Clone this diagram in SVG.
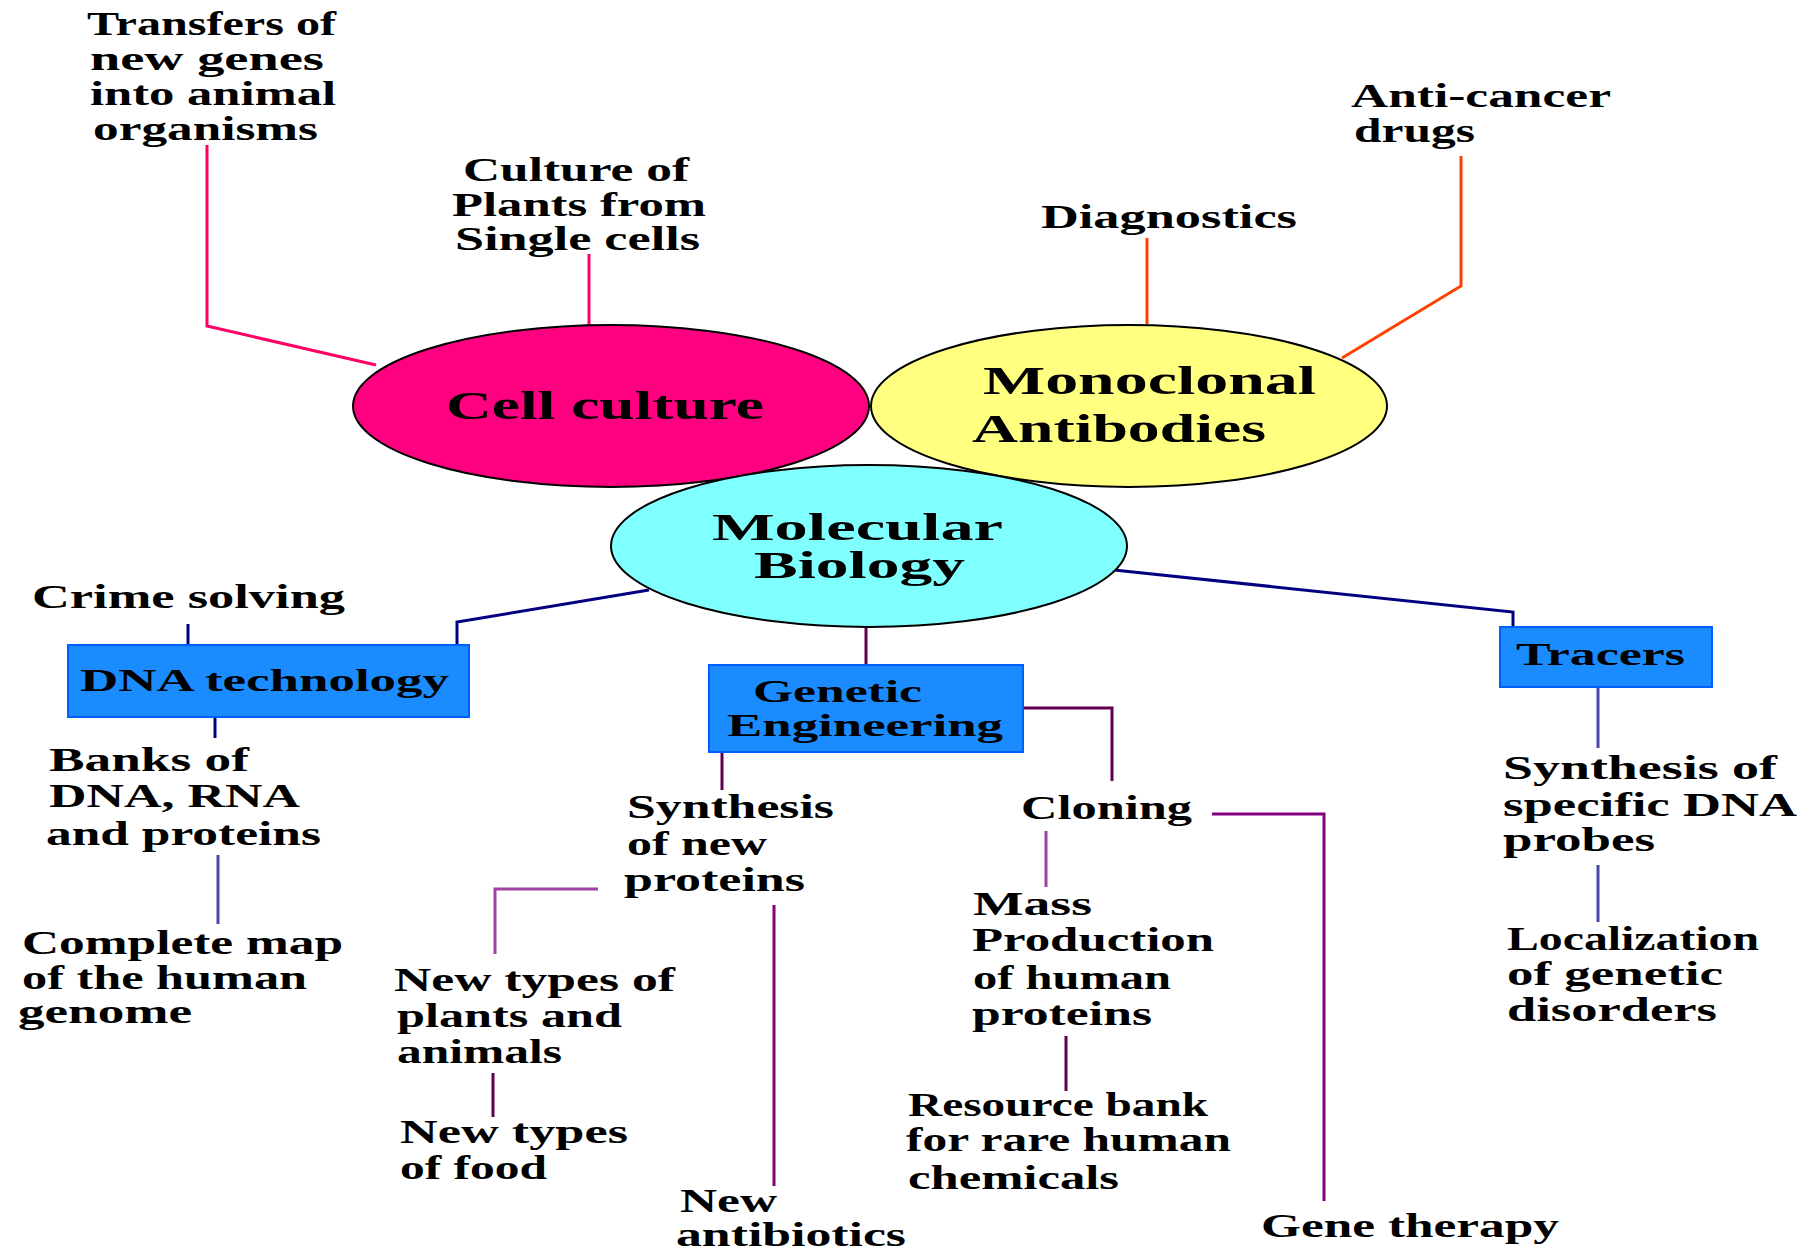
<svg xmlns="http://www.w3.org/2000/svg" width="1816" height="1254" viewBox="0 0 1816 1254">
<style>
text{font-family:"Liberation Serif","Times New Roman",serif;font-weight:bold;fill:#000}
.s{font-size:33px}
.b{font-size:40px}
.m{font-size:37px}
.bx{font-size:32px}
.ln{fill:none;stroke-width:3}
.pk{stroke:#ff0066}
.or{stroke:#ff4000}
.nv{stroke:#000080}
.bl{stroke:#4848a8}
.pu{stroke:#800080}
.dp{stroke:#600050}
.lp{stroke:#a040a0}
.el{stroke:#000;stroke-width:2}
.box{fill:#1a8cff;stroke:#0060ff;stroke-width:2}
</style>
<rect width="1816" height="1254" fill="#fff"/>
<g id="connectors">
<polyline class="ln pk" points="207,145 207,326 376,365"/>
<polyline class="ln pk" points="589,254 589,326"/>
<polyline class="ln or" points="1147,238 1147,324"/>
<polyline class="ln or" points="1461,156 1461,286 1342,358"/>
<polyline class="ln nv" points="649,590 457,622 457,645"/>
<polyline class="ln nv" points="188,624 188,645"/>
<polyline class="ln nv" points="215,717 215,738"/>
<polyline class="ln bl" points="218,855 218,924"/>
<polyline class="ln nv" points="1114,570 1513,612 1513,627"/>
<polyline class="ln bl" points="1598,687 1598,748"/>
<polyline class="ln bl" points="1598,865 1598,922"/>
<polyline class="ln dp" points="866,627 866,665"/>
<polyline class="ln dp" points="722,752 722,790"/>
<polyline class="ln dp" points="1023,708 1112,708 1112,781"/>
<polyline class="ln lp" points="598,889 495,889 495,954"/>
<polyline class="ln dp" points="493,1073 493,1117"/>
<polyline class="ln pu" points="774,905 774,1186"/>
<polyline class="ln pu" points="1212,814 1324,814 1324,1201"/>
<polyline class="ln lp" points="1046,831 1046,887"/>
<polyline class="ln dp" points="1066,1036 1066,1091"/>
</g>
<g id="transfers">
<text class="s" x="87" y="35" textLength="249" lengthAdjust="spacingAndGlyphs">Transfers of</text>
<text class="s" x="90" y="70" textLength="234" lengthAdjust="spacingAndGlyphs">new genes</text>
<text class="s" x="90" y="105" textLength="246" lengthAdjust="spacingAndGlyphs">into animal</text>
<text class="s" x="93" y="140" textLength="225" lengthAdjust="spacingAndGlyphs">organisms</text>
</g>
<g id="culture-plants">
<text class="s" x="463" y="181" textLength="226" lengthAdjust="spacingAndGlyphs">Culture of</text>
<text class="s" x="452" y="216" textLength="254" lengthAdjust="spacingAndGlyphs">Plants from</text>
<text class="s" x="455" y="250" textLength="245" lengthAdjust="spacingAndGlyphs">Single cells</text>
</g>
<g id="diagnostics">
<text class="s" x="1041" y="228" textLength="256" lengthAdjust="spacingAndGlyphs">Diagnostics</text>
</g>
<g id="anticancer">
<text class="s" x="1351" y="107" textLength="260" lengthAdjust="spacingAndGlyphs">Anti-cancer</text>
<text class="s" x="1354" y="142" textLength="121" lengthAdjust="spacingAndGlyphs">drugs</text>
</g>
<g id="cell-culture">
<ellipse cx="611" cy="406" rx="258" ry="81" fill="#ff0080" class="el"/>
<text class="b" x="446" y="419" textLength="318" lengthAdjust="spacingAndGlyphs">Cell culture</text>
</g>
<g id="monoclonal">
<ellipse cx="1129" cy="406" rx="258" ry="81" fill="#ffff80" class="el"/>
<text class="b" x="983" y="394" textLength="333" lengthAdjust="spacingAndGlyphs">Monoclonal</text>
<text class="b" x="972" y="442" textLength="294" lengthAdjust="spacingAndGlyphs">Antibodies</text>
</g>
<g id="molecular">
<ellipse cx="869" cy="546" rx="258" ry="81" fill="#80ffff" class="el"/>
<text class="m" x="712" y="540" textLength="291" lengthAdjust="spacingAndGlyphs">Molecular</text>
<text class="m" x="754" y="578" textLength="211" lengthAdjust="spacingAndGlyphs">Biology</text>
</g>
<g id="crime">
<text class="s" x="32" y="608" textLength="313" lengthAdjust="spacingAndGlyphs">Crime solving</text>
</g>
<g id="dna-tech">
<rect class="box" x="68" y="645" width="401" height="72"/>
<text class="bx" x="80" y="691" textLength="369" lengthAdjust="spacingAndGlyphs">DNA technology</text>
</g>
<g id="banks">
<text class="s" x="49" y="771" textLength="200" lengthAdjust="spacingAndGlyphs">Banks of</text>
<text class="s" x="49" y="807" textLength="251" lengthAdjust="spacingAndGlyphs">DNA, RNA</text>
<text class="s" x="46" y="845" textLength="275" lengthAdjust="spacingAndGlyphs">and proteins</text>
</g>
<g id="complete-map">
<text class="s" x="22" y="954" textLength="321" lengthAdjust="spacingAndGlyphs">Complete map</text>
<text class="s" x="22" y="989" textLength="285" lengthAdjust="spacingAndGlyphs">of the human</text>
<text class="s" x="18" y="1023" textLength="174" lengthAdjust="spacingAndGlyphs">genome</text>
</g>
<g id="genetic-eng">
<rect class="box" x="709" y="665" width="314" height="87"/>
<text class="bx" x="753" y="702" textLength="169" lengthAdjust="spacingAndGlyphs">Genetic</text>
<text class="bx" x="727" y="736" textLength="276" lengthAdjust="spacingAndGlyphs">Engineering</text>
</g>
<g id="synthesis-proteins">
<text class="s" x="627" y="818" textLength="207" lengthAdjust="spacingAndGlyphs">Synthesis</text>
<text class="s" x="627" y="855" textLength="140" lengthAdjust="spacingAndGlyphs">of new</text>
<text class="s" x="624" y="891" textLength="181" lengthAdjust="spacingAndGlyphs">proteins</text>
</g>
<g id="new-types">
<text class="s" x="394" y="991" textLength="281" lengthAdjust="spacingAndGlyphs">New types of</text>
<text class="s" x="397" y="1027" textLength="225" lengthAdjust="spacingAndGlyphs">plants and</text>
<text class="s" x="397" y="1063" textLength="165" lengthAdjust="spacingAndGlyphs">animals</text>
</g>
<g id="new-food">
<text class="s" x="400" y="1143" textLength="228" lengthAdjust="spacingAndGlyphs">New types</text>
<text class="s" x="400" y="1179" textLength="147" lengthAdjust="spacingAndGlyphs">of food</text>
</g>
<g id="new-antibiotics">
<text class="s" x="680" y="1212" textLength="97" lengthAdjust="spacingAndGlyphs">New</text>
<text class="s" x="676" y="1246" textLength="230" lengthAdjust="spacingAndGlyphs">antibiotics</text>
</g>
<g id="cloning">
<text class="s" x="1021" y="819" textLength="171" lengthAdjust="spacingAndGlyphs">Cloning</text>
</g>
<g id="mass-production">
<text class="s" x="973" y="915" textLength="119" lengthAdjust="spacingAndGlyphs">Mass</text>
<text class="s" x="972" y="951" textLength="242" lengthAdjust="spacingAndGlyphs">Production</text>
<text class="s" x="973" y="989" textLength="198" lengthAdjust="spacingAndGlyphs">of human</text>
<text class="s" x="972" y="1025" textLength="180" lengthAdjust="spacingAndGlyphs">proteins</text>
</g>
<g id="resource-bank">
<text class="s" x="908" y="1116" textLength="300" lengthAdjust="spacingAndGlyphs">Resource bank</text>
<text class="s" x="906" y="1151" textLength="325" lengthAdjust="spacingAndGlyphs">for rare human</text>
<text class="s" x="908" y="1189" textLength="211" lengthAdjust="spacingAndGlyphs">chemicals</text>
</g>
<g id="gene-therapy">
<text class="s" x="1261" y="1237" textLength="298" lengthAdjust="spacingAndGlyphs">Gene therapy</text>
</g>
<g id="tracers">
<rect class="box" x="1500" y="627" width="212" height="60"/>
<text class="bx" x="1516" y="665" textLength="169" lengthAdjust="spacingAndGlyphs">Tracers</text>
</g>
<g id="dna-probes">
<text class="s" x="1503" y="779" textLength="274" lengthAdjust="spacingAndGlyphs">Synthesis of</text>
<text class="s" x="1503" y="816" textLength="294" lengthAdjust="spacingAndGlyphs">specific DNA</text>
<text class="s" x="1503" y="851" textLength="152" lengthAdjust="spacingAndGlyphs">probes</text>
</g>
<g id="localization">
<text class="s" x="1507" y="950" textLength="252" lengthAdjust="spacingAndGlyphs">Localization</text>
<text class="s" x="1507" y="985" textLength="216" lengthAdjust="spacingAndGlyphs">of genetic</text>
<text class="s" x="1507" y="1021" textLength="210" lengthAdjust="spacingAndGlyphs">disorders</text>
</g>
</svg>
